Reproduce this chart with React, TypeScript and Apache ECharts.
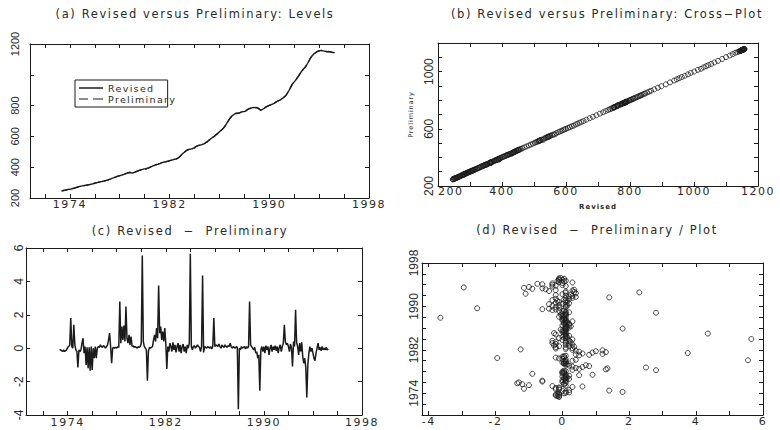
import React, { useEffect, useRef } from "react";
import * as echarts from "echarts";

// Monthly series starts May 1973
const startYear = 1973;
const startMonthIndex = 4; // 0 = January

// Revised − Preliminary, monthly (May 1973 … Apr 1995)
const diffMonthly = [
  // 1973 May-Dec
  -0.1, -0.1, -0.15, -0.2, -0.1, -0.2, -0.15, -0.1,
  // 1974
  0.05, 0.1, 0.2, 1.8, 0.1, 0.0, 1.4, 0.2, -0.1, -0.2, -1.15, -0.1,
  // 1975
  -0.2, -0.1, 0.3, 0.6, -0.3, 0.1, -1.0, 0.05, -1.2, 0.05, -1.35, 0.1,
  // 1976
  -1.3, 0.0, -0.6, 0.1, -0.6, 0.0, 0.1, 0.05, 0.2, 0.1, 0.05, 0.15,
  // 1977
  0.1, 0.0, 0.1, 0.2, 0.5, 0.9, 0.1, -0.9, 0.0, 0.05, 0.0, 0.05,
  // 1978
  0.0, 0.1, 0.05, 2.8, 0.3, 1.3, 0.5, 1.35, 0.4, 2.5, 0.6, 0.3,
  // 1979
  0.8, 0.2, 0.7, 0.1, 0.15, 0.05, 0.1, 0.05, 0.0, 0.1, 0.05, 0.1,
  // 1980
  0.3, 5.55, 0.4, 0.1, 0.0, -0.1, -1.95, -0.2, 0.05, 0.0, 0.05, 0.1,
  // 1981
  0.5, 0.8, 0.4, 1.2, 0.6, 3.75, 0.9, 1.3, 0.5, 1.0, 0.4, 1.2,
  // 1982
  0.3, -1.25, 0.1, -0.2, 0.3, 0.1, -0.2, 0.35, -0.1, 0.2, -0.25, 0.1,
  // 1983
  0.3, -0.2, 0.2, -0.3, 0.1, 0.25, -0.2, 0.1, -0.3, 0.2, 0.0, 0.3,
  // 1984
  5.65, 0.1, -0.1, 0.1, 0.15, 0.0, 0.1, 0.2, 0.1, 0.05, -0.2, 0.1,
  // 1985
  4.35, -0.25, 0.1, 0.05, 0.0, 0.1, 0.05, 0.0, 0.1, -0.05, 0.1, 1.8,
  // 1986
  0.1, 0.2, 0.15, 0.1, 0.25, 0.1, 0.0, 0.2, 0.1, 0.05, 0.2, 0.1,
  // 1987
  0.05, 0.15, 0.1, 0.3, 0.1, 0.0, 0.1, 0.05, 0.0, 0.1, 0.05, -3.65,
  // 1988
  0.0, -0.1, 0.1, 0.0, 0.05, 0.1, -0.05, 0.1, 0.0, 0.1, 2.8, 0.2,
  // 1989
  0.1, 0.0, -0.1, 0.05, -0.3, -0.2, -0.6, -0.4, -2.55, -0.1, 0.1, -0.2,
  // 1990
  0.1, -0.3, 0.15, -0.1, 0.1, -0.4, 0.0, 0.2, -0.2, 0.1, -0.1, 0.15,
  // 1991
  -0.15, 0.1, -0.3, 0.05, 0.2, -0.2, 0.1, 0.3, 1.4, 0.4, 0.2, 0.3,
  // 1992
  0.1, -0.2, 0.25, 0.0, -1.1, 0.4, 0.1, 2.3, 0.35, 0.1, -0.4, 0.3,
  // 1993
  -0.2, 0.35, -0.5, -0.9, -0.6, -1.15, -2.95, -1.0, -0.3, 0.1, -0.2, 0.0,
  // 1994
  -0.3, -0.6, -0.75, -0.3, 0.0, 0.3, -0.1, 0.05, -0.15, 0.1, -0.1, 0.0,
  // 1995 Jan-Apr
  -0.1, 0.05, -0.1, -0.05,
];

// Revised level, monthly (May 1973 … Apr 1995)
const levelMonthly = [
  // 1973 May-Dec
  246, 247, 249, 250, 252, 253, 255, 256,
  // 1974
  257, 258, 260, 262, 264, 266, 268, 270, 272, 274, 276, 277,
  // 1975
  279, 280, 281, 282, 283, 284, 286, 287, 289, 290, 292, 294,
  // 1976
  296, 298, 300, 301, 303, 304, 306, 307, 309, 310, 312, 314,
  // 1977
  316, 318, 321, 323, 326, 329, 331, 334, 336, 339, 341, 343,
  // 1978
  345, 347, 349, 351, 353, 356, 359, 362, 364, 367, 366, 363,
  // 1979
  362, 364, 367, 369, 372, 375, 377, 380, 382, 384, 386, 388,
  // 1980
  389, 390, 392, 394, 396, 399, 402, 405, 408, 411, 414, 416,
  // 1981
  418, 420, 423, 425, 428, 430, 432, 434, 435, 437, 438, 440,
  // 1982
  442, 444, 446, 448, 450, 452, 453, 455, 459, 464, 470, 477,
  // 1983
  484, 490, 496, 502, 507, 511, 514, 516, 517, 519, 520, 524,
  // 1984
  528, 532, 536, 539, 542, 543, 545, 546, 549, 552, 556, 561,
  // 1985
  565, 570, 576, 581, 586, 591, 596, 600, 606, 612, 618, 624,
  // 1986
  630, 636, 642, 648, 655, 664, 674, 684, 695, 706, 716, 724,
  // 1987
  732, 738, 742, 747, 750, 749, 751, 752, 755, 758, 760, 761,
  // 1988
  762, 764, 769, 774, 778, 781, 783, 785, 787, 788, 787, 788,
  // 1989
  786, 784, 779, 774, 770, 774, 778, 782, 787, 791, 795, 798,
  // 1990
  801, 804, 807, 810, 812, 816, 821, 825, 829, 832, 835, 839,
  // 1991
  844, 848, 854, 860, 866, 876, 887, 898, 912, 925, 938, 946,
  // 1992
  954, 962, 971, 981, 990, 1001, 1012, 1022, 1030, 1038, 1045, 1054,
  // 1993
  1064, 1075, 1088, 1100, 1112, 1121, 1129, 1136, 1141, 1146, 1150, 1153,
  // 1994
  1155, 1157, 1158, 1156, 1155, 1154, 1152, 1151, 1150, 1151, 1150, 1148,
  // 1995 Jan-Apr
  1147, 1145, 1145, 1144,
];

const yearTicks = [1972, 1974, 1976, 1978, 1980, 1982, 1984, 1986, 1988, 1990, 1992, 1994, 1996, 1998];
const yearLabels = [1974, 1982, 1990, 1998];
const levelLabels = [200, 400, 600, 800, 1200];
const levelTicks = [200, 400, 600, 800, 1000, 1200];
const crossXLabels = [200, 400, 600, 800, 1000, 1200];
const crossYLabels = [200, 600, 1000];
const diffXLabels = [-4, -2, 0, 2, 4, 6];
const diffXTicks = [-4, -3, -2, -1, 0, 1, 2, 3, 4, 5, 6];

const titles = [
  "(a) Revised versus Preliminary: Levels",
  "(b) Revised versus Preliminary: Cross\u2212Plot",
  "(c) Revised  \u2212  Preliminary",
  "(d) Revised  \u2212  Preliminary / Plot",
];

const TEXT = "#2a2a2a";
const LINE = "#1b1b1b";
const WIDE = "DejaVu Sans";
const NARROW = "'Liberation Sans Narrow', 'Liberation Sans', Arial";

function timeOf(i: number) {
  return startYear + (startMonthIndex + i) / 12;
}

const plain = (v: number) => String(v);

function axisBase(extra: any) {
  return {
    type: "value",
    axisLine: { show: true, onZero: false, lineStyle: { color: LINE, width: 1 } },
    axisTick: { show: true, inside: true, length: 4, lineStyle: { color: LINE, width: 1 } },
    splitLine: { show: false },
    ...extra,
  };
}

function ticks(values: number[]) {
  return { show: true, inside: true, length: 4, customValues: values, lineStyle: { color: LINE, width: 1 } };
}

export default function App() {
  const ref = useRef<HTMLDivElement>(null);

  useEffect(() => {
    if (!ref.current) return;
    const chart = echarts.init(ref.current, undefined, { renderer: "svg" });

    const revisedLine = levelMonthly.map((v, i) => [timeOf(i), v]);
    const prelimLine = levelMonthly.map((v, i) => [timeOf(i), v - diffMonthly[i]]);
    const crossData = levelMonthly.map((v, i) => [v, v - diffMonthly[i]]);
    const diffLine = diffMonthly.map((d, i) => [timeOf(i), d]);
    const diffScatter = diffMonthly.map((d, i) => [d, timeOf(i)]);

    const xLabel = (values: number[], margin: number, extra: any = {}) => ({
      show: true,
      customValues: values,
      formatter: plain,
      margin,
      color: TEXT,
      fontFamily: WIDE,
      fontSize: 11,
      ...extra,
    });
    const yLabel = (values: number[] | null, margin: number, size: number) => ({
      show: true,
      ...(values ? { customValues: values } : {}),
      formatter: plain,
      rotate: 90,
      margin,
      color: TEXT,
      fontFamily: NARROW,
      fontSize: size,
    });
    const hidden = { show: false };

    const option: any = {
      animation: false,
      backgroundColor: "#ffffff",
      title: titles.map((t, i) => ({
        text: t,
        left: [195, 607, 190, 597][i],
        top: [8, 8, 225, 224][i],
        textAlign: "center",
        padding: 0,
        textStyle: { fontFamily: WIDE, fontSize: 11.5, fontWeight: "normal", color: TEXT },
      })),
      legend: {
        data: [
          { name: "Revised", icon: "rect" },
          { name: "Preliminary", icon: "path://M0,0h9v1h-9z M14,0h10v1h-10z" },
        ],
        orient: "vertical",
        left: 75,
        top: 80,
        itemWidth: 24,
        itemHeight: 1.5,
        itemGap: 1,
        padding: [3, 6, 3, 4],
        borderColor: LINE,
        borderWidth: 1,
        selectedMode: false,
        itemStyle: { color: LINE, borderWidth: 0 },
        textStyle: { fontFamily: WIDE, fontSize: 9.5, color: TEXT, lineHeight: 9.5 },
      },
      grid: [
        { left: 30, top: 44, width: 339, height: 154 },
        { left: 438, top: 43, width: 320, height: 143 },
        { left: 26, top: 248, width: 336, height: 167 },
        { left: 422, top: 263, width: 341, height: 152 },
      ],
      xAxis: [
        axisBase({ gridIndex: 0, min: 1970.8, max: 1998, axisTick: ticks(yearTicks), axisLabel: xLabel(yearLabels, 1) }),
        axisBase({ gridIndex: 0, position: "top", min: 1970.8, max: 1998, axisTick: ticks(yearTicks), axisLabel: hidden }),
        axisBase({ gridIndex: 1, min: 200, max: 1200, interval: 100, axisLabel: xLabel(crossXLabels, 0, { alignMinLabel: "left" }), name: "Revised", nameLocation: "middle", nameGap: 17, nameTextStyle: { fontFamily: WIDE, fontSize: 7, fontWeight: "bold", color: TEXT } }),
        axisBase({ gridIndex: 1, position: "top", min: 200, max: 1200, interval: 100, axisLabel: hidden }),
        axisBase({ gridIndex: 2, min: 1970.6, max: 1998, axisTick: ticks(yearTicks), axisLabel: xLabel(yearLabels, 2) }),
        axisBase({ gridIndex: 2, position: "top", min: 1970.6, max: 1998, axisTick: ticks(yearTicks), axisLabel: hidden }),
        axisBase({ gridIndex: 3, min: -4.2, max: 6, axisTick: ticks(diffXTicks), axisLabel: xLabel(diffXLabels, 1) }),
        axisBase({ gridIndex: 3, position: "top", min: -4.2, max: 6, axisTick: ticks(diffXTicks), axisLabel: hidden }),
      ],
      yAxis: [
        axisBase({ gridIndex: 0, min: 200, max: 1200, axisTick: ticks(levelTicks), axisLabel: yLabel(levelLabels, 10, 11) }),
        axisBase({ gridIndex: 0, position: "right", min: 200, max: 1200, axisTick: ticks(levelTicks), axisLabel: hidden }),
        axisBase({ gridIndex: 1, min: 200, max: 1200, interval: 100, axisLabel: yLabel(crossYLabels, 3, 12), name: "Preliminary", nameLocation: "middle", nameGap: 24, nameRotate: 90, nameTextStyle: { fontFamily: WIDE, fontSize: 6.5, color: TEXT } }),
        axisBase({ gridIndex: 1, position: "right", min: 200, max: 1200, interval: 100, axisLabel: hidden }),
        axisBase({ gridIndex: 2, min: -4, max: 6, interval: 2, axisLabel: yLabel(null, 1, 12) }),
        axisBase({ gridIndex: 2, position: "right", min: -4, max: 6, interval: 2, axisLabel: hidden }),
        axisBase({ gridIndex: 3, min: 1970, max: 1998, interval: 2, axisLabel: yLabel(yearLabels, 2, 12) }),
        axisBase({ gridIndex: 3, position: "right", min: 1970, max: 1998, interval: 2, axisLabel: hidden }),
      ],
      series: [
        {
          name: "Revised",
          type: "line",
          xAxisIndex: 0,
          yAxisIndex: 0,
          data: revisedLine,
          symbol: "none",
          lineStyle: { color: LINE, width: 1.4 },
          itemStyle: { color: LINE },
        },
        {
          name: "Preliminary",
          type: "line",
          xAxisIndex: 0,
          yAxisIndex: 0,
          data: prelimLine,
          symbol: "none",
          lineStyle: { color: LINE, width: 1.2, type: [7, 4] },
          itemStyle: { color: LINE },
        },
        {
          name: "cross",
          type: "scatter",
          xAxisIndex: 2,
          yAxisIndex: 2,
          data: crossData,
          symbol: "circle",
          symbolSize: 5,
          itemStyle: { color: "rgba(0,0,0,0)", borderColor: LINE, borderWidth: 1 },
        },
        {
          name: "diff",
          type: "line",
          xAxisIndex: 4,
          yAxisIndex: 4,
          data: diffLine,
          symbol: "none",
          lineStyle: { color: LINE, width: 1.5 },
        },
        {
          name: "diffPlot",
          type: "scatter",
          xAxisIndex: 6,
          yAxisIndex: 6,
          data: diffScatter,
          symbol: "circle",
          symbolSize: 5,
          itemStyle: { color: "rgba(0,0,0,0)", borderColor: LINE, borderWidth: 1 },
        },
      ],
    };

    chart.setOption(option);
    return () => chart.dispose();
  }, []);

  return (
    <>
      <style>{`#chart-root text[style*="DejaVu"], #chart-root text[font-family*="DejaVu"] { letter-spacing: 0.14em; }`}</style>
      <div
        id="chart-root"
        ref={ref}
        style={{ position: "absolute", left: 0, top: 0, width: 780, height: 430, background: "#fff" }}
      />
    </>
  );
}
